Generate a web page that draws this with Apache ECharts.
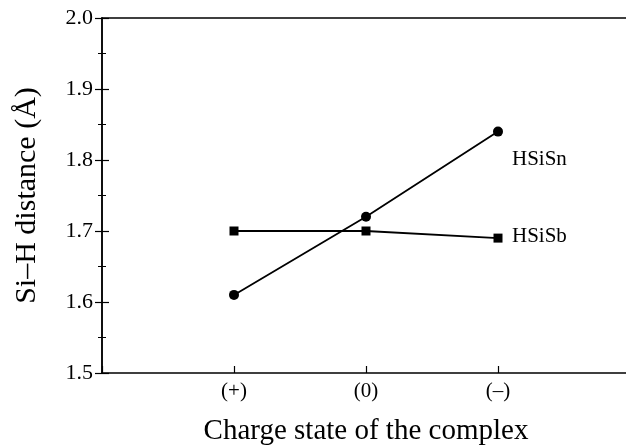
<!DOCTYPE html>
<html>
<head>
<meta charset="utf-8">
<script src="https://cdn.jsdelivr.net/npm/echarts@6/dist/echarts.min.js"></script>
<style>html,body{margin:0;padding:0;background:#fff}#c{width:626px;height:445px}</style>
</head>
<body>
<div id="c"></div>
<script>
var categories = ['(+)', '(0)', '(\u2013)'];
var hsisn = [1.61, 1.72, 1.84];
var hsisb = [1.70, 1.70, 1.69];
var yTicks = [1.5, 1.6, 1.7, 1.8, 1.9, 2.0];

function pairs(vals){ return vals.map(function(v,i){ return [i+1, v]; }); }
var FONT = 'Liberation Serif';
var chart = echarts.init(document.getElementById('c'));
chart.setOption({
  animation: false,
  backgroundColor: '#fff',
  grid: {left: 102, top: 18, right: -4, bottom: 72, containLabel: false, outerBoundsMode: 'none'},
  xAxis: [{
    type: 'value', min: 0, max: 4, interval: 1, position: 'bottom',
    name: 'Charge state of the complex', nameLocation: 'middle', nameGap: 44,
    nameTextStyle: {fontFamily: FONT, fontSize: 29, color: '#000'},
    axisLine: {show: true, lineStyle: {color: '#000', width: 1.5}},
    axisTick: {show: true, inside: true, length: 7, lineStyle: {color: '#000', width: 1.2}},
    axisLabel: {fontFamily: FONT, fontSize: 21, color: '#000', margin: 8,
      formatter: function(v){ return (v >= 1 && v <= categories.length) ? categories[v-1] : ''; }},
    splitLine: {show: false}
  },{
    type: 'value', min: 0, max: 4, interval: 1, position: 'top',
    axisLine: {show: true, lineStyle: {color: '#000', width: 1.5}},
    axisTick: {show: false}, axisLabel: {show: false}, splitLine: {show: false}
  }],
  yAxis: [{
    type: 'value', min: 1.5, max: 2.0, interval: 0.1, position: 'left',
    name: 'Si\u2013H distance (\u00c5)', nameLocation: 'middle', nameGap: 60, nameRotate: 90,
    nameTextStyle: {fontFamily: FONT, fontSize: 30, color: '#000'},
    axisLine: {show: true, lineStyle: {color: '#000', width: 1.5}},
    axisTick: {show: true, inside: true, length: 7, lineStyle: {color: '#000', width: 1.2}},
    minorTick: {show: true, splitNumber: 2, length: 4, lineStyle: {color: '#000', width: 1}},
    axisLabel: {fontFamily: FONT, fontSize: 22, color: '#000', margin: 9,
      formatter: function(v){ return v.toFixed(1); }},
    splitLine: {show: false}
  },{
    type: 'value', min: 1.5, max: 2.0, interval: 0.1, position: 'right',
    axisLine: {show: true, lineStyle: {color: '#000', width: 1.5}},
    axisTick: {show: true, inside: true, length: 7, lineStyle: {color: '#000', width: 1.2}},
    minorTick: {show: true, splitNumber: 2, length: 4, lineStyle: {color: '#000', width: 1}},
    axisLabel: {show: false}, splitLine: {show: false}
  }],
  series: [{
    name: 'HSiSn', type: 'line', data: pairs(hsisn),
    symbol: 'circle', symbolSize: 10,
    lineStyle: {color: '#000', width: 1.8}, itemStyle: {color: '#000'},
    endLabel: {show: true, formatter: 'HSiSn', fontFamily: FONT, fontSize: 21, color: '#000', distance: 14, offset: [0, 28]}
  },{
    name: 'HSiSb', type: 'line', data: pairs(hsisb),
    symbol: 'rect', symbolSize: 9,
    lineStyle: {color: '#000', width: 1.8}, itemStyle: {color: '#000'},
    endLabel: {show: true, formatter: 'HSiSb', fontFamily: FONT, fontSize: 21, color: '#000', distance: 14, offset: [0, -2]}
  }]
});
</script>
</body>
</html>
